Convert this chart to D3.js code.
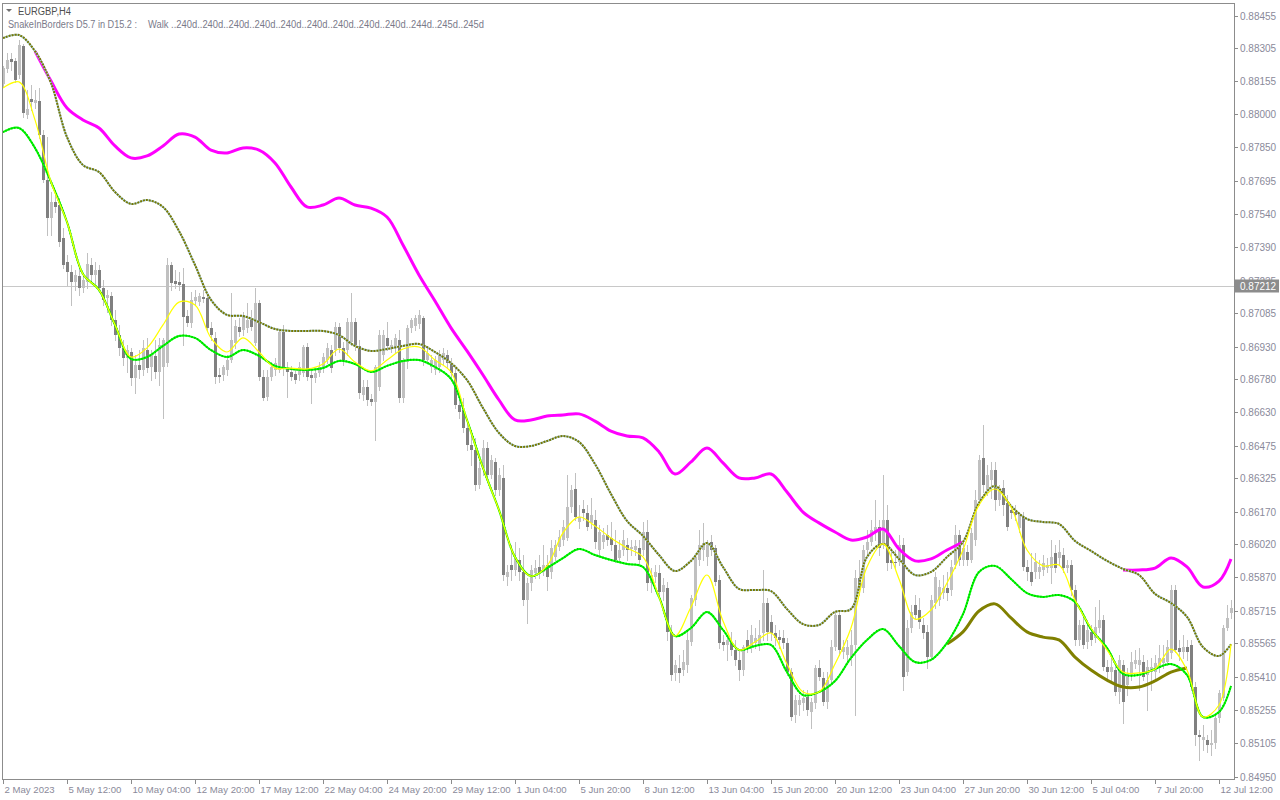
<!DOCTYPE html>
<html><head><meta charset="utf-8">
<script src="https://cdn.jsdelivr.net/npm/d3@7"></script>
<style>body{margin:0;background:#fff;}svg{display:block;}text{font-family:"Liberation Sans",Arial,sans-serif;}</style>
</head><body><svg id="c" width="1280" height="800"></svg>
<script>
const symbolTitle = "EURGBP,H4";
const indicatorName = "SnakeInBorders D5.7 in D15.2 :";
const indicatorWalk = "Walk ..240d..240d..240d..240d..240d..240d..240d..240d..240d..244d..245d..245d";
const timeLabels = ["2 May 2023","5 May 12:00","10 May 04:00","12 May 20:00","17 May 12:00","22 May 04:00","24 May 20:00","29 May 12:00","1 Jun 04:00","5 Jun 20:00","8 Jun 12:00","13 Jun 04:00","15 Jun 20:00","20 Jun 12:00","23 Jun 04:00","27 Jun 20:00","30 Jun 12:00","5 Jul 04:00","7 Jul 20:00","12 Jul 12:00"];
const timeLabelBars = [0,16,32,48,64,80,96,112,128,144,160,176,192,208,224,240,256,272,288,304];
const priceLabels = ["0.88455","0.88305","0.88155","0.88000","0.87850","0.87695","0.87540","0.87390","0.87235","0.87085","0.86930","0.86780","0.86630","0.86475","0.86325","0.86170","0.86020","0.85870","0.85715","0.85565","0.85410","0.85255","0.85105","0.84950"];
const currentPrice = 0.87212;

// H4 candles, bar 0 .. 307
const opens = [
0.88140,0.88210,0.88256,0.88246,0.88182,0.88316,0.87998,0.88071,0.88053,0.88062,
0.87906,0.87698,0.87523,0.87597,0.87583,0.87431,0.87321,0.87274,0.87228,0.87256,
0.87201,0.87228,0.87307,0.87261,0.87284,0.87201,0.87155,0.87164,0.87053,0.86984,
0.86924,0.86878,0.86906,0.86786,0.86846,0.86823,0.86915,0.86837,0.86888,0.86814,
0.86837,0.86855,0.87307,0.87233,0.87228,0.87219,0.87072,0.87040,0.87141,0.87136,
0.87159,0.87155,0.87017,0.86971,0.86800,0.86800,0.86823,0.86869,0.86948,0.87021,
0.87007,0.87017,0.87063,0.86948,0.87132,0.86791,0.86699,0.86791,0.86823,0.86823,
0.86998,0.86832,0.86814,0.86805,0.86800,0.86809,0.86929,0.86800,0.86786,0.86809,
0.86832,0.86869,0.86915,0.86915,0.87021,0.86924,0.86915,0.86952,0.87044,0.86934,
0.86708,0.86745,0.86690,0.86676,0.86745,0.86892,0.86971,0.86924,0.86929,0.86961,
0.86694,0.86860,0.87017,0.87026,0.87035,0.87063,0.86869,0.86837,0.86823,0.86837,
0.86869,0.86892,0.86855,0.86809,0.86662,0.86639,0.86556,0.86478,0.86455,0.86294,
0.86372,0.86464,0.86340,0.86400,0.86271,0.86326,0.85870,0.85925,0.85902,0.85948,
0.85893,0.85764,0.85842,0.85888,0.85916,0.85893,0.85925,0.85893,0.85962,0.86008,
0.86040,0.86049,0.86192,0.86275,0.86123,0.86183,0.86165,0.86118,0.86132,0.85994,
0.86031,0.86063,0.86049,0.86017,0.85957,0.85994,0.86017,0.85999,0.85994,0.86003,
0.85994,0.86077,0.85842,0.85870,0.85888,0.85801,0.85819,0.85617,0.85428,0.85451,
0.85441,0.85464,0.85570,0.85764,0.85948,0.85994,0.85962,0.86031,0.86003,0.85856,
0.85570,0.85557,0.85570,0.85534,0.85488,0.85441,0.85580,0.85547,0.85566,0.85557,
0.85612,0.85750,0.85663,0.85612,0.85593,0.85589,0.85566,0.85432,0.85234,0.85280,
0.85290,0.85317,0.85248,0.85290,0.85451,0.85405,0.85294,0.85395,0.85547,0.85695,
0.85524,0.85511,0.85501,0.85557,0.85865,0.85819,0.85994,0.86031,0.86072,0.86100,
0.86017,0.86132,0.85948,0.85939,0.85939,0.86017,0.85432,0.85635,0.85741,0.85718,
0.85649,0.85617,0.85501,0.85750,0.85764,0.85796,0.85819,0.85810,0.85925,0.86063,
0.85948,0.85985,0.85948,0.86040,0.86224,0.86418,0.86271,0.86317,0.86363,0.86224,
0.86280,0.86211,0.86178,0.86169,0.86096,0.86146,0.85916,0.85893,0.85893,0.85893,
0.85902,0.85911,0.85911,0.85980,0.85957,0.85971,0.85911,0.85925,0.85810,0.85580,
0.85649,0.85570,0.85617,0.85589,0.85635,0.85672,0.85455,0.85432,0.85441,0.85340,
0.85464,0.85372,0.85418,0.85469,0.85464,0.85478,0.85418,0.85432,0.85432,0.85451,
0.85474,0.85478,0.85520,0.85810,0.85543,0.85524,0.85547,0.85557,0.85363,0.85142,
0.85119,0.85119,0.85096,0.85105,0.85220,0.85313,0.85635,0.85704];
const highs = [
0.88223,0.88283,0.88283,0.88260,0.88343,0.88325,0.88113,0.88136,0.88113,0.88122,
0.87929,0.87896,0.87643,0.87629,0.87615,0.87477,0.87353,0.87307,0.87284,0.87293,
0.87261,0.87362,0.87339,0.87321,0.87307,0.87238,0.87192,0.87182,0.87100,0.87030,
0.86961,0.86938,0.86924,0.86892,0.86915,0.86961,0.86971,0.86915,0.86961,0.86971,
0.86971,0.87339,0.87321,0.87284,0.87274,0.87293,0.87100,0.87182,0.87192,0.87178,
0.87192,0.87169,0.87044,0.86998,0.86832,0.86846,0.86892,0.87178,0.87053,0.87063,
0.87090,0.87132,0.87100,0.87201,0.87146,0.86823,0.86823,0.86860,0.86878,0.87007,
0.87030,0.86860,0.86842,0.86832,0.86860,0.86938,0.86948,0.86823,0.86832,0.86860,
0.86901,0.86948,0.86938,0.87044,0.87040,0.86952,0.87063,0.87178,0.87063,0.86961,
0.86777,0.86777,0.86713,0.86846,0.87007,0.87007,0.87044,0.86961,0.86989,0.87007,
0.86878,0.87030,0.87063,0.87077,0.87100,0.87072,0.86924,0.86892,0.86888,0.86915,
0.86924,0.86915,0.86878,0.86846,0.86708,0.86694,0.86593,0.86547,0.86510,0.86400,
0.86501,0.86492,0.86432,0.86418,0.86372,0.86386,0.85925,0.86017,0.86031,0.86003,
0.85971,0.85865,0.85925,0.85948,0.85971,0.86017,0.85971,0.86040,0.86040,0.86086,
0.86132,0.86340,0.86294,0.86349,0.86201,0.86224,0.86201,0.86234,0.86178,0.86109,
0.86096,0.86109,0.86123,0.86086,0.86040,0.86086,0.86049,0.86040,0.86040,0.86040,
0.86123,0.86132,0.85911,0.85925,0.85925,0.85865,0.85847,0.85649,0.85488,0.85511,
0.85534,0.85626,0.85787,0.85971,0.86086,0.86118,0.86040,0.86063,0.86017,0.85879,
0.85603,0.85603,0.85617,0.85580,0.85534,0.85557,0.85626,0.85649,0.85635,0.85672,
0.85902,0.85773,0.85695,0.85649,0.85626,0.85626,0.85589,0.85451,0.85326,0.85326,
0.85349,0.85349,0.85313,0.85464,0.85488,0.85432,0.85432,0.85580,0.85709,0.85718,
0.85580,0.85580,0.85626,0.85902,0.85948,0.86017,0.86086,0.86132,0.86224,0.86132,
0.86340,0.86201,0.86003,0.85994,0.86063,0.86049,0.85672,0.85741,0.85787,0.85773,
0.85681,0.85649,0.85787,0.85893,0.85856,0.85879,0.85893,0.85948,0.86109,0.86086,
0.86040,0.86017,0.86096,0.86271,0.86432,0.86570,0.86386,0.86400,0.86400,0.86294,
0.86317,0.86247,0.86201,0.86201,0.86169,0.86169,0.85948,0.85980,0.85980,0.85948,
0.85971,0.85957,0.86040,0.86017,0.86040,0.86003,0.85948,0.85948,0.85833,0.85672,
0.85695,0.85672,0.85649,0.85732,0.85764,0.85695,0.85488,0.85511,0.85464,0.85511,
0.85488,0.85451,0.85524,0.85534,0.85543,0.85511,0.85488,0.85497,0.85511,0.85557,
0.85557,0.85580,0.85833,0.85833,0.85580,0.85603,0.85580,0.85580,0.85386,0.85165,
0.85188,0.85142,0.85165,0.85234,0.85349,0.85649,0.85741,0.85764];
const lows = [
0.88131,0.88196,0.88205,0.88150,0.88168,0.87989,0.87984,0.88021,0.88030,0.87892,
0.87689,0.87445,0.87445,0.87551,0.87394,0.87293,0.87215,0.87123,0.87192,0.87169,
0.87182,0.87201,0.87228,0.87215,0.87182,0.87123,0.87090,0.87030,0.86961,0.86892,
0.86846,0.86814,0.86754,0.86717,0.86786,0.86800,0.86814,0.86777,0.86786,0.86754,
0.86602,0.86842,0.87192,0.87201,0.87192,0.86938,0.87026,0.87021,0.87123,0.87123,
0.87136,0.87007,0.86961,0.86763,0.86768,0.86777,0.86800,0.86860,0.86924,0.86980,
0.86984,0.86998,0.87007,0.86938,0.86777,0.86685,0.86685,0.86777,0.86800,0.86814,
0.86800,0.86699,0.86777,0.86763,0.86777,0.86796,0.86777,0.86671,0.86768,0.86796,
0.86814,0.86855,0.86814,0.86892,0.86906,0.86846,0.86892,0.86938,0.86915,0.86694,
0.86685,0.86662,0.86662,0.86501,0.86731,0.86869,0.86915,0.86906,0.86906,0.86676,
0.86676,0.86832,0.86998,0.87007,0.87017,0.86846,0.86855,0.86814,0.86805,0.86814,
0.86851,0.86832,0.86786,0.86648,0.86602,0.86538,0.86455,0.86386,0.86271,0.86280,
0.86340,0.86317,0.86326,0.86247,0.86247,0.85856,0.85833,0.85856,0.85879,0.85856,
0.85741,0.85658,0.85810,0.85865,0.85865,0.85879,0.85810,0.85865,0.85948,0.85994,
0.86017,0.86040,0.86169,0.86132,0.86096,0.86132,0.86086,0.86096,0.86003,0.85971,
0.86003,0.86017,0.85994,0.85939,0.85939,0.85971,0.85948,0.85971,0.85971,0.85925,
0.85971,0.85810,0.85801,0.85847,0.85773,0.85764,0.85580,0.85395,0.85395,0.85386,
0.85418,0.85432,0.85557,0.85741,0.85925,0.85948,0.85925,0.85971,0.85833,0.85543,
0.85534,0.85488,0.85511,0.85464,0.85395,0.85418,0.85524,0.85524,0.85543,0.85534,
0.85580,0.85580,0.85580,0.85557,0.85543,0.85543,0.85418,0.85211,0.85202,0.85234,
0.85257,0.85234,0.85174,0.85266,0.85395,0.85280,0.85266,0.85382,0.85534,0.85511,
0.85497,0.85478,0.85464,0.85234,0.85787,0.85801,0.85971,0.86017,0.86040,0.85971,
0.86003,0.85902,0.85911,0.85911,0.85925,0.85349,0.85418,0.85617,0.85681,0.85635,
0.85589,0.85451,0.85488,0.85727,0.85741,0.85773,0.85764,0.85787,0.85911,0.85925,
0.85925,0.85925,0.85939,0.86017,0.86201,0.86261,0.86247,0.86234,0.86178,0.86201,
0.86155,0.86086,0.86141,0.86132,0.86077,0.85902,0.85856,0.85833,0.85865,0.85865,
0.85879,0.85893,0.85842,0.85893,0.85925,0.85893,0.85893,0.85787,0.85557,0.85557,
0.85543,0.85543,0.85557,0.85570,0.85617,0.85441,0.85405,0.85395,0.85326,0.85290,
0.85197,0.85326,0.85395,0.85451,0.85349,0.85395,0.85257,0.85349,0.85395,0.85432,
0.85451,0.85464,0.85497,0.85524,0.85488,0.85497,0.85488,0.85349,0.85096,0.85027,
0.85073,0.85064,0.85050,0.85082,0.85202,0.85303,0.85626,0.85681];
const closes = [
0.88214,0.88251,0.88242,0.88159,0.88320,0.88007,0.88025,0.88058,0.88067,0.87906,
0.87698,0.87523,0.87597,0.87574,0.87413,0.87307,0.87274,0.87228,0.87261,0.87201,
0.87238,0.87311,0.87261,0.87284,0.87201,0.87146,0.87169,0.87053,0.86984,0.86924,
0.86878,0.86915,0.86786,0.86846,0.86823,0.86924,0.86832,0.86892,0.86814,0.86938,
0.86961,0.87307,0.87224,0.87219,0.87215,0.87067,0.87040,0.87146,0.87159,0.87164,
0.87150,0.87017,0.86984,0.86791,0.86791,0.86837,0.86869,0.86961,0.87026,0.86998,
0.87077,0.87053,0.87021,0.87132,0.86791,0.86694,0.86791,0.86837,0.86855,0.86998,
0.86837,0.86814,0.86791,0.86777,0.86837,0.86929,0.86791,0.86786,0.86809,0.86837,
0.86883,0.86924,0.86832,0.87021,0.86924,0.86869,0.87044,0.87044,0.86938,0.86717,
0.86745,0.86685,0.86676,0.86837,0.86984,0.86984,0.86934,0.86938,0.86971,0.86694,
0.86869,0.87017,0.87053,0.87063,0.87077,0.86869,0.86901,0.86869,0.86869,0.86892,
0.86901,0.86855,0.86809,0.86662,0.86630,0.86556,0.86478,0.86455,0.86294,0.86372,
0.86464,0.86340,0.86409,0.86271,0.86340,0.85879,0.85893,0.85902,0.85957,0.85893,
0.85764,0.85842,0.85902,0.85911,0.85888,0.85925,0.85870,0.86003,0.86017,0.86054,
0.86100,0.86192,0.86271,0.86146,0.86146,0.86165,0.86100,0.86155,0.86031,0.86077,
0.86063,0.86040,0.86017,0.85948,0.85994,0.86040,0.85994,0.86008,0.86013,0.85948,
0.86077,0.85842,0.85879,0.85893,0.85801,0.85833,0.85617,0.85418,0.85464,0.85428,
0.85478,0.85580,0.85773,0.85962,0.86017,0.86026,0.86017,0.85994,0.85847,0.85566,
0.85557,0.85580,0.85534,0.85488,0.85441,0.85547,0.85547,0.85603,0.85589,0.85603,
0.85750,0.85617,0.85612,0.85589,0.85580,0.85566,0.85432,0.85225,0.85303,0.85303,
0.85313,0.85257,0.85294,0.85451,0.85409,0.85294,0.85395,0.85547,0.85695,0.85534,
0.85547,0.85547,0.85557,0.85865,0.85810,0.85994,0.86031,0.86086,0.86100,0.86003,
0.86132,0.85934,0.85934,0.85934,0.86017,0.85409,0.85635,0.85709,0.85695,0.85663,
0.85612,0.85501,0.85764,0.85870,0.85824,0.85819,0.85796,0.85916,0.86063,0.85948,
0.86003,0.85948,0.86072,0.86224,0.86409,0.86294,0.86340,0.86363,0.86224,0.86271,
0.86201,0.86100,0.86165,0.86155,0.86155,0.85916,0.85893,0.85847,0.85939,0.85916,
0.85934,0.85925,0.85962,0.85911,0.85985,0.85911,0.85925,0.85810,0.85580,0.85649,
0.85557,0.85626,0.85580,0.85640,0.85672,0.85455,0.85432,0.85455,0.85340,0.85488,
0.85294,0.85418,0.85478,0.85488,0.85488,0.85409,0.85455,0.85455,0.85474,0.85497,
0.85497,0.85547,0.85810,0.85534,0.85524,0.85547,0.85524,0.85363,0.85142,0.85133,
0.85133,0.85096,0.85105,0.85220,0.85336,0.85635,0.85681,0.85727];

// indicator lines sampled every 4 bars (last sample = bar 307)
const lineBars = [0,4,8,12,16,20,24,28,32,36,40,44,48,52,56,60,64,68,72,76,80,84,88,92,96,100,104,108,112,116,120,124,128,132,136,140,144,148,152,156,160,164,168,172,176,180,184,188,192,196,200,204,208,212,216,220,224,228,232,236,240,244,248,252,256,260,264,268,272,276,280,284,288,292,296,300,304,307];
const snakeUpper = [0.88352,0.88366,0.88292,0.88145,0.87896,0.87767,0.87735,0.87643,0.87588,0.87606,0.87574,0.87463,0.87307,0.87146,0.87077,0.87072,0.87044,0.87012,0.87003,0.87003,0.87003,0.86984,0.86934,0.86911,0.86920,0.86934,0.86943,0.86906,0.86855,0.86777,0.86648,0.86533,0.86473,0.86473,0.86496,0.86519,0.86492,0.86390,0.86252,0.86128,0.86059,0.85971,0.85897,0.85944,0.86026,0.85916,0.85815,0.85810,0.85805,0.85722,0.85653,0.85649,0.85709,0.85722,0.85962,0.86022,0.85953,0.85879,0.85893,0.85962,0.86031,0.86211,0.86289,0.86197,0.86137,0.86123,0.86114,0.86036,0.85990,0.85944,0.85907,0.85879,0.85792,0.85750,0.85686,0.85547,0.85506,0.85560];
const upperBorder = [null,null,0.88292,0.88154,0.88030,0.87975,0.87938,0.87855,0.87800,0.87809,0.87855,0.87910,0.87896,0.87836,0.87823,0.87846,0.87836,0.87777,0.87666,0.87574,0.87583,0.87615,0.87583,0.87569,0.87528,0.87399,0.87261,0.87141,0.87017,0.86911,0.86800,0.86685,0.86593,0.86593,0.86611,0.86616,0.86621,0.86588,0.86542,0.86519,0.86510,0.86446,0.86344,0.86400,0.86464,0.86395,0.86326,0.86326,0.86344,0.86261,0.86169,0.86119,0.86077,0.86040,0.86054,0.86091,0.85999,0.85944,0.85953,0.85994,0.86031,null,null,null,null,null,null,null,null,null,0.85902,0.85902,0.85911,0.85957,0.85916,0.85824,0.85851,0.85953];
const fastLine = [0.88122,0.88150,0.87975,0.87689,0.87505,0.87265,0.87192,0.87031,0.86883,0.86925,0.87031,0.87136,0.87123,0.86971,0.86906,0.86971,0.86906,0.86832,0.86832,0.86828,0.86851,0.86920,0.86860,0.86819,0.86869,0.86920,0.86929,0.86869,0.86814,0.86593,0.86372,0.86178,0.85962,0.85874,0.85921,0.86073,0.86146,0.86105,0.86049,0.86003,0.85962,0.85778,0.85598,0.85732,0.85879,0.85667,0.85534,0.85570,0.85612,0.85469,0.85340,0.85340,0.85469,0.85635,0.85916,0.86022,0.85861,0.85676,0.85718,0.85842,0.85994,0.86201,0.86275,0.86192,0.85994,0.85921,0.85925,0.85764,0.85635,0.85534,0.85432,0.85428,0.85446,0.85538,0.85441,0.85225,0.85280,0.85560];
const snakeLower = [0.87919,0.87938,0.87846,0.87689,0.87505,0.87265,0.87192,0.87031,0.86874,0.86883,0.86934,0.86980,0.86971,0.86915,0.86883,0.86915,0.86888,0.86842,0.86828,0.86823,0.86832,0.86865,0.86851,0.86814,0.86842,0.86865,0.86869,0.86837,0.86782,0.86593,0.86372,0.86178,0.85962,0.85874,0.85911,0.85957,0.85999,0.85971,0.85948,0.85930,0.85916,0.85778,0.85598,0.85635,0.85709,0.85626,0.85534,0.85552,0.85557,0.85432,0.85326,0.85340,0.85391,0.85497,0.85580,0.85630,0.85552,0.85478,0.85488,0.85566,0.85699,0.85893,0.85921,0.85861,0.85796,0.85778,0.85787,0.85755,0.85630,0.85543,0.85423,0.85419,0.85446,0.85469,0.85419,0.85225,0.85248,0.85368];
const lowerBorder = [null,null,null,null,null,null,null,null,null,null,null,null,null,null,null,null,null,null,null,null,null,null,null,null,null,null,null,null,null,null,null,null,null,null,null,null,null,null,null,null,null,null,null,null,null,null,null,null,null,null,null,null,null,null,null,null,null,null,null,0.85561,0.85617,0.85713,0.85746,0.85681,0.85617,0.85593,0.85580,0.85501,0.85441,0.85395,0.85363,0.85363,0.85391,0.85432,0.85451,null,null,null];

const barCount = opens.length;
const svg = d3.select("#c");
const x = d3.scaleLinear().domain([0, 307]).range([3, 1231]);
const y = d3.scaleLinear().domain([0.84950, 0.88455]).range([776.7, 15.7]);
const L = 2, R = 1234, T = 3, B = 779;

svg.append("rect").attr("width",1280).attr("height",800).attr("fill","#fff");
svg.append("defs").append("clipPath").attr("id","plot").append("rect")
  .attr("x",L+1).attr("y",T+1).attr("width",R-L-1).attr("height",B-T-1);

const cpy = Math.round(y(currentPrice)) + 0.5;
svg.append("line").attr("x1",L).attr("x2",R).attr("y1",cpy).attr("y2",cpy).attr("stroke","#c8c8c8");

const plot = svg.append("g").attr("clip-path","url(#plot)");

const bars = d3.range(barCount).map(i => ({i, o: opens[i], h: highs[i], l: lows[i], c: closes[i]}));
const cg = plot.append("g");
cg.selectAll("line").data(bars).join("line")
  .attr("x1", d => Math.round(x(d.i)) + 0.5).attr("x2", d => Math.round(x(d.i)) + 0.5)
  .attr("y1", d => Math.round(y(d.h))).attr("y2", d => Math.round(y(d.l)) + 1)
  .attr("stroke", "#c0c0c0").attr("stroke-width", 1);
cg.selectAll("rect").data(bars).join("rect")
  .attr("x", d => Math.round(x(d.i)) - 1).attr("width", 3)
  .attr("y", d => Math.round(y(Math.max(d.o, d.c))))
  .attr("height", d => Math.max(1, Math.round(y(Math.min(d.o, d.c))) - Math.round(y(Math.max(d.o, d.c)))))
  .attr("fill", d => d.c >= d.o ? "#c0c0c0" : "#808080");

function series(vals){ return lineBars.map((b,k)=>({b, v: vals[k]})); }
const lineGen = d3.line().defined(d => d.v != null).x(d => x(d.b)).y(d => y(d.v)).curve(d3.curveCatmullRom.alpha(0.5));

plot.append("path").attr("d", lineGen(series(upperBorder))).attr("fill","none").attr("stroke","#ff00ff").attr("stroke-width",3);
plot.append("path").attr("d", lineGen(series(lowerBorder))).attr("fill","none").attr("stroke","#808000").attr("stroke-width",3);
plot.append("path").attr("d", lineGen(series(snakeUpper))).attr("fill","none").attr("stroke","#a8d0e0").attr("stroke-width",2);
plot.append("path").attr("d", lineGen(series(snakeUpper))).attr("fill","none").attr("stroke","#787800").attr("stroke-width",2).attr("stroke-dasharray","2,1");
plot.append("path").attr("d", lineGen(series(snakeLower))).attr("fill","none").attr("stroke","#00ff00").attr("stroke-width",2);
plot.append("path").attr("d", lineGen(series(snakeLower))).attr("fill","none").attr("stroke","#00c000").attr("stroke-width",2).attr("stroke-dasharray","1,2");
plot.append("path").attr("d", lineGen(series(fastLine))).attr("fill","none").attr("stroke","#ffff00").attr("stroke-width",1.2);

svg.append("rect").attr("x",L+0.5).attr("y",T+0.5).attr("width",R-L).attr("height",B-T)
  .attr("fill","none").attr("stroke","#8c8c8c");

const pa = svg.append("g");
priceLabels.forEach(s => {
  const yy = Math.round(y(+s)) + 0.5;
  pa.append("line").attr("x1",R).attr("x2",R+4).attr("y1",yy).attr("y2",yy).attr("stroke","#8c8c8c");
  pa.append("text").attr("x",R+6).attr("y",yy).attr("dy","0.35em").attr("font-size",10).attr("fill","#8a8a9a").text(s);
});
pa.append("rect").attr("x",R+1).attr("y",cpy-7).attr("width",44).attr("height",13).attr("fill","#8c8c8c");
pa.append("text").attr("x",R+6).attr("y",cpy).attr("dy","0.35em").attr("font-size",10).attr("fill","#fff").text(currentPrice.toFixed(5));

const ta = svg.append("g");
timeLabelBars.forEach((b,k) => {
  const xx = Math.round(x(b)) + 0.5;
  ta.append("line").attr("x1",xx).attr("x2",xx).attr("y1",B).attr("y2",B+5).attr("stroke","#8c8c8c");
  ta.append("text").attr("x",xx+1).attr("y",793).attr("font-size",9.6).attr("fill","#8a8a9a").text(timeLabels[k]);
});

svg.append("path").attr("d","M6,9L12,9L9,12Z").attr("fill","#707070");
svg.append("text").attr("x",18).attr("y",15).attr("font-size",10).attr("fill","#505050")
  .attr("textLength",53).attr("lengthAdjust","spacingAndGlyphs").text(symbolTitle);
svg.append("text").attr("x",8).attr("y",28).attr("font-size",10).attr("fill","#7a7a8a")
  .attr("textLength",129).attr("lengthAdjust","spacingAndGlyphs").text(indicatorName);
svg.append("text").attr("x",148).attr("y",28).attr("font-size",10).attr("fill","#7a7a8a")
  .attr("textLength",336).attr("lengthAdjust","spacingAndGlyphs").text(indicatorWalk);
</script></body></html>
